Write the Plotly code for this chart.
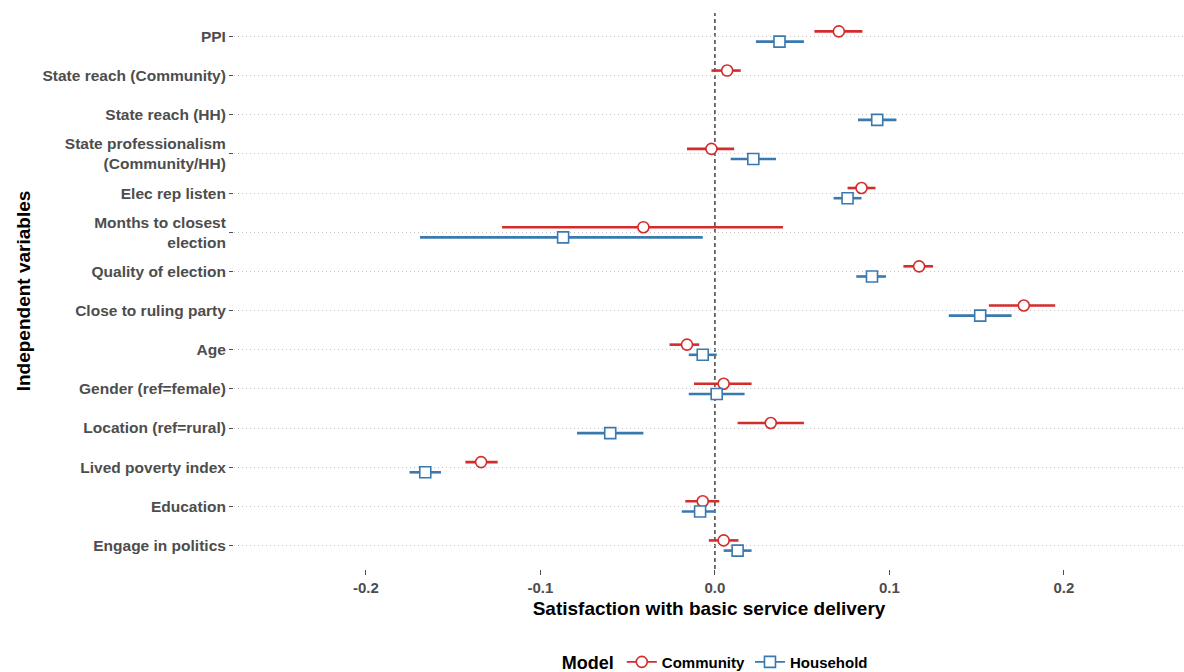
import plotly.graph_objects as go

# Coefficient estimates with 95% confidence intervals for two models
variables = [
    "PPI",
    "State reach (Community)",
    "State reach (HH)",
    "State professionalism<br>(Community/HH)",
    "Elec rep listen",
    "Months to closest<br>election",
    "Quality of election",
    "Close to ruling party",
    "Age",
    "Gender (ref=female)",
    "Location (ref=rural)",
    "Lived poverty index",
    "Education",
    "Engage in politics",
]

community_est = [0.071, 0.007, None, -0.002, 0.084, -0.041, 0.117, 0.177, -0.016, 0.005, 0.032, -0.134, -0.007, 0.005]
community_lo = [0.057, -0.002, None, -0.016, 0.076, -0.122, 0.108, 0.157, -0.026, -0.012, 0.013, -0.143, -0.017, -0.0035]
community_hi = [0.0845, 0.0148, None, 0.011, 0.092, 0.039, 0.125, 0.195, -0.009, 0.021, 0.051, -0.1245, 0.0025, 0.0135]

household_est = [0.037, None, 0.093, 0.022, 0.076, -0.087, 0.090, 0.152, -0.007, 0.001, -0.060, -0.166, -0.0085, 0.013]
household_lo = [0.0235, None, 0.082, 0.009, 0.068, -0.169, 0.081, 0.134, -0.015, -0.015, -0.079, -0.175, -0.019, 0.005]
household_hi = [0.051, None, 0.104, 0.035, 0.084, -0.007, 0.098, 0.170, 0.001, 0.017, -0.041, -0.157, 0.0, 0.021]

x_ticks = [-0.2, -0.1, 0.0, 0.1, 0.2]
x_tick_labels = ["-0.2", "-0.1", "0.0", "0.1", "0.2"]

RED = "#D42B2B"
BLUE = "#3A78B0"
FONT = "Liberation Sans"
DODGE = 0.13

positions = list(range(1, len(variables) + 1))


def model_trace(name, est, lo, hi, offset, color, symbol):
    xs, ys, plus, minus = [], [], [], []
    for pos, e, l, h in zip(positions, est, lo, hi):
        if e is None:
            continue
        xs.append(e)
        ys.append(pos + offset)
        plus.append(h - e)
        minus.append(e - l)
    return go.Scatter(
        x=xs,
        y=ys,
        mode="markers",
        name=name,
        showlegend=False,
        marker=dict(symbol=symbol, size=11, color="white",
                    line=dict(color=color, width=1.6)),
        error_x=dict(type="data", symmetric=False, array=plus, arrayminus=minus,
                     color=color, thickness=2.6, width=0),
    )


fig = go.Figure()
fig.add_trace(model_trace("Community", community_est, community_lo, community_hi,
                          -DODGE, RED, "circle"))
fig.add_trace(model_trace("Household", household_est, household_lo, household_hi,
                          DODGE, BLUE, "square"))

# legend keys: line through an open marker
for name, color, symbol in [("Community", RED, "circle"), ("Household", BLUE, "square")]:
    fig.add_trace(go.Scatter(
        x=[None], y=[None], mode="lines+markers", name=name,
        line=dict(color=color, width=1.6),
        marker=dict(symbol=symbol, size=11, color="white",
                    line=dict(color=color, width=1.6)),
    ))

fig.add_vline(x=0, line=dict(color="black", width=1.1, dash="4px,3px"), layer="below")

fig.update_layout(
    width=1184,
    height=672,
    margin=dict(l=234, r=0, t=13, b=103),
    paper_bgcolor="white",
    plot_bgcolor="white",
    font=dict(family=FONT, size=15, color="#4D4D4D"),
    showlegend=True,
    legend=dict(
        orientation="h",
        xref="container", yref="container",
        x=0.605, y=0.014, xanchor="center", yanchor="middle",
        title=dict(text="Model", font=dict(family=FONT, size=18, color="black", weight="bold")),
        font=dict(family=FONT, size=15, color="black", weight="bold"),
        itemwidth=30,
    ),
)

fig.update_xaxes(
    range=[-0.2756, 0.2688],
    tickvals=x_ticks,
    ticktext=x_tick_labels,
    ticks="outside",
    ticklen=5,
    tickcolor="#4D4D4D",
    tickfont=dict(family=FONT, size=15, color="#4D4D4D", weight="bold"),
    showgrid=False,
    zeroline=False,
    showline=False,
    title=dict(text="Satisfaction with basic service delivery",
               font=dict(family=FONT, size=19, color="black", weight="bold"),
               standoff=6),
)

fig.update_yaxes(
    range=[len(variables) + 0.6, 0.4],
    tickvals=positions,
    ticktext=variables,
    ticks="outside",
    ticklen=4,
    tickcolor="#4D4D4D",
    tickfont=dict(family=FONT, size=15.5, color="#4D4D4D", weight="bold"),
    showgrid=True,
    gridcolor="#C4C4C4",
    gridwidth=1,
    griddash="1px,3px",
    zeroline=False,
    showline=False,
    title=dict(text="Independent variables",
               font=dict(family=FONT, size=19, color="black", weight="bold"),
               standoff=6),
)

fig.write_html("out.html")
